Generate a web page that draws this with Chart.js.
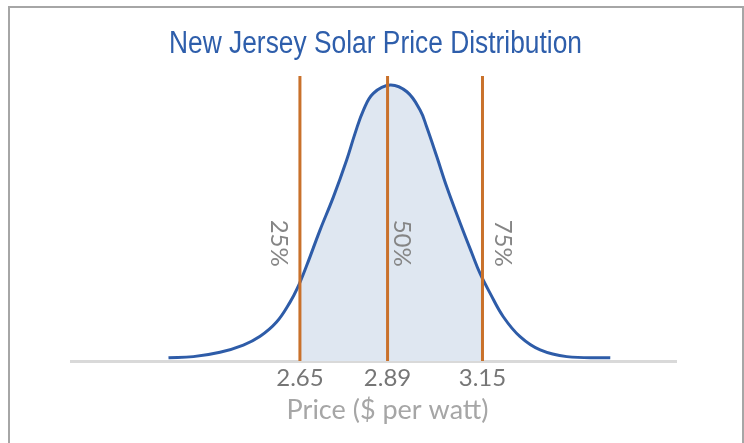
<!DOCTYPE html>
<html>
<head>
<meta charset="utf-8">
<script src="https://cdn.jsdelivr.net/npm/chart.js@4/dist/chart.umd.min.js"></script>
<style>
  body { margin: 0; background: #fff; }
  #wrap { position: relative; width: 744px; height: 443px; overflow: hidden; }
  #frame {
    position: absolute; left: 8px; top: 6px; width: 736px; height: 500px;
    box-sizing: border-box; border: 2px solid #a6a6a6;
  }
  #box { position: absolute; left: 0; top: 0; width: 744px; height: 443px; }
</style>
</head>
<body>
<div id="wrap">
  <div id="frame"></div>
  <div id="box"><canvas id="chart"></canvas></div>
</div>
<script>
// price ($/W) and relative density
const priceX = [2.29, 2.358, 2.431, 2.495, 2.541, 2.586, 2.623, 2.643, 2.669, 2.705,
  2.742, 2.778, 2.801, 2.824, 2.851, 2.897, 2.943, 2.979, 2.997, 3.025,
  3.052, 3.089, 3.121, 3.143, 3.171, 3.207, 3.253, 3.308, 3.381, 3.5];
const density = [0.017, 0.023, 0.046, 0.084, 0.13, 0.205, 0.31, 0.383, 0.505, 0.689,
  0.865, 1.058, 1.198, 1.321, 1.409, 1.453, 1.417, 1.321, 1.233, 1.075,
  0.917, 0.725, 0.567, 0.462, 0.356, 0.233, 0.128, 0.058, 0.023, 0.017];

const quartilePrices = [2.65, 2.89, 3.15];
const quartileLabels = ["25%", "50%", "75%"];

const TITLE = "New Jersey Solar Price Distribution";
const AXIS_TITLE = "Price ($ per watt)";

const Y_MAX = 1.5;
const BLUE = "#2e5ca8";
const ORANGE = "#c9712b";
const FILL_INDEX = 4;

const curve = priceX.map((x, i) => ({ x: x, y: density[i] }));

const lineSets = quartilePrices.map((q) => ({
  data: [{ x: q, y: 0 }, { x: q, y: Y_MAX }],
  borderColor: ORANGE,
  borderWidth: 3,
  pointRadius: 0,
  fill: false,
}));

// clip the shaded area to the 25%..75% band
const bandClip = {
  id: "bandClip",
  beforeDatasetsDraw(chart) {
    const { ctx, chartArea, scales } = chart;
    const x1 = scales.x.getPixelForValue(quartilePrices[0]);
    const x2 = scales.x.getPixelForValue(quartilePrices[quartilePrices.length - 1]);
    ctx.save();
    ctx.beginPath();
    ctx.rect(x1, chartArea.top, x2 - x1, chartArea.bottom - chartArea.top);
    ctx.clip();
  },
  afterDatasetDraw(chart, args) {
    if (args.index === FILL_INDEX) chart.ctx.restore();
  },
};

// title (narrow), rotated percentile labels and the axis title
const labelOffsets = [-21, 14, 20];
const annotate = {
  id: "annotate",
  afterDraw(chart) {
    const { ctx, scales, chartArea } = chart;
    ctx.save();

    ctx.font = "31px 'Liberation Sans', Arial, sans-serif";
    ctx.fillStyle = "#2e5eab";
    ctx.textAlign = "center";
    ctx.textBaseline = "alphabetic";
    const w = ctx.measureText(TITLE).width;
    ctx.save();
    ctx.translate(375.5, 53);
    ctx.scale(413 / w, 1);
    ctx.fillText(TITLE, 0, 0);
    ctx.restore();

    ctx.fillStyle = "#858585";
    ctx.font = "24px Lato";
    ctx.textBaseline = "middle";
    quartilePrices.forEach((q, i) => {
      const x = scales.x.getPixelForValue(q) + labelOffsets[i];
      const y = scales.y.getPixelForValue(0.62);
      ctx.save();
      ctx.translate(x, y);
      ctx.rotate(Math.PI / 2);
      ctx.fillText(quartileLabels[i], 0, 0);
      ctx.restore();
    });

    ctx.fillStyle = "#a6a6a6";
    ctx.font = "27px Lato";
    ctx.fillText(AXIS_TITLE, scales.x.getPixelForValue(quartilePrices[1]), chartArea.bottom + 49);
    ctx.restore();
  },
};

new Chart(document.getElementById("chart"), {
  type: "line",
  data: {
    datasets: [
      ...lineSets,
      {
        data: curve,
        borderColor: BLUE,
        borderWidth: 3,
        pointRadius: 0,
        tension: 0.4,
        fill: false,
      },
      {
        data: curve,
        borderColor: "rgba(0,0,0,0)",
        borderWidth: 0,
        backgroundColor: "#dfe7f1",
        pointRadius: 0,
        tension: 0.4,
        fill: "origin",
      },
    ],
  },
  options: {
    responsive: true,
    maintainAspectRatio: false,
    animation: false,
    events: [],
    layout: { padding: { left: 71, right: 68, top: 76, bottom: 52 } },
    plugins: {
      legend: { display: false },
      tooltip: { enabled: false },
      title: { display: false },
    },
    scales: {
      x: {
        type: "linear",
        min: 2.023,
        max: 3.68,
        grid: { display: false, drawTicks: false },
        border: { display: true, color: "#d9d9d9", width: 3 },
        afterBuildTicks: (scale) => {
          scale.ticks = quartilePrices.map((v) => ({ value: v }));
        },
        afterFit: (scale) => {
          scale.height = 30;
        },
        ticks: {
          color: "#767676",
          font: { family: "Lato", size: 24 },
          padding: 3,
          maxRotation: 0,
          callback: (v) => Number(v).toFixed(2),
        },
      },
      y: {
        display: false,
        min: 0,
        max: Y_MAX,
      },
    },
  },
  plugins: [bandClip, annotate],
});
</script>
</body>
</html>
